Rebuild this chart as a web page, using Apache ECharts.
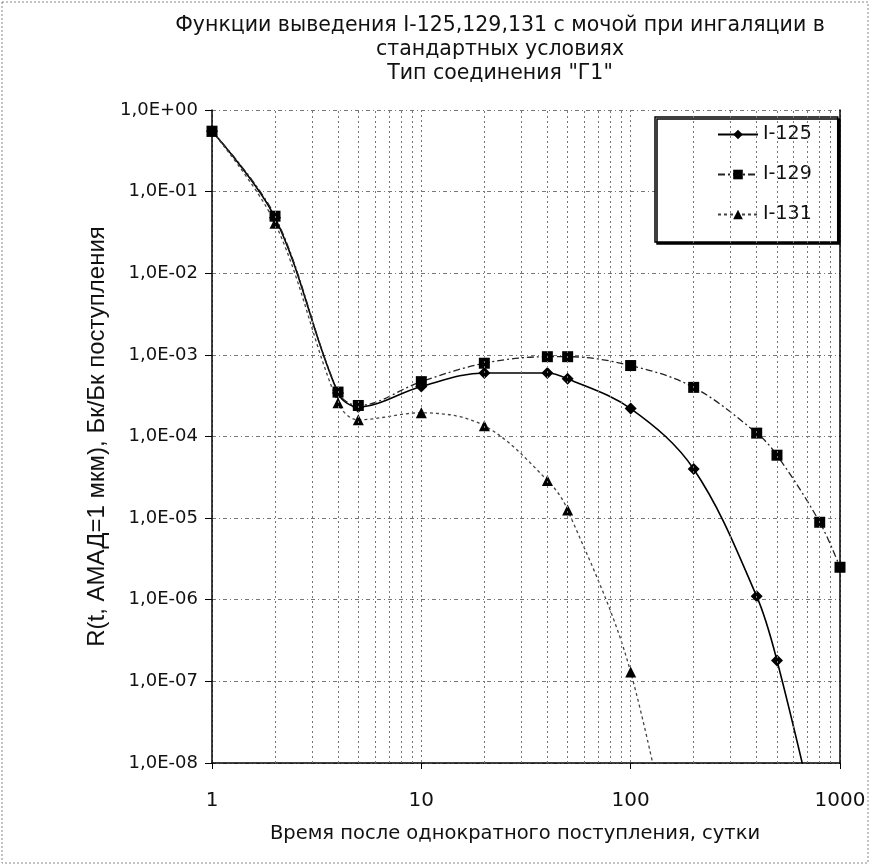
<!DOCTYPE html>
<html>
<head>
<meta charset="utf-8">
<script src="https://cdn.jsdelivr.net/npm/echarts@6/dist/echarts.min.js"></script>
<style>html,body{margin:0;padding:0;background:#fff}#c{width:871px;height:865px}</style>
</head>
<body>
<div id="c"></div>
<script>
const days = [1, 2, 4, 5, 10, 20, 40, 50, 100, 200, 400, 500, 800, 1000];
const i125 = [0.55, 0.048, 3.4e-4, 2.3e-4, 4.1e-4, 6.0e-4, 6.0e-4, 5.1e-4, 2.2e-4, 4.0e-5, 1.1e-6, 1.8e-7, 1.2e-9, null];
const i129 = [0.55, 0.050, 3.5e-4, 2.4e-4, 4.7e-4, 7.9e-4, 9.5e-4, 9.5e-4, 7.4e-4, 4.0e-4, 1.1e-4, 5.9e-5, 8.9e-6, 2.5e-6];
const i131 = [0.55, 0.041, 2.6e-4, 1.6e-4, 1.95e-4, 1.35e-4, 2.9e-5, 1.26e-5, 1.3e-7, 3e-11, null, null, null, null];
const seriesNames = ['I-125', 'I-129', 'I-131'];
const xTickLabels = ['1', '10', '100', '1000'];
const yTickLabels = ['1,0E-08', '1,0E-07', '1,0E-06', '1,0E-05', '1,0E-04', '1,0E-03', '1,0E-02', '1,0E-01', '1,0E+00'];
const minorX = [2,3,4,5,6,7,8,9,20,30,40,50,60,70,80,90,200,300,400,500,600,700,800,900];
const titleText = 'Функции выведения I-125,129,131 с мочой при ингаляции в\nстандартных условиях\nТип соединения "Г1"';
const xName = 'Время после однократного поступления, сутки';
const yName = 'R(t, АМАД=1 мкм), Бк/Бк поступления';

const pair = arr => days.map((d, i) => [d, arr[i]]).filter(p => p[1] != null);
const font = 'DejaVu Sans';
const chart = echarts.init(document.getElementById('c'), null, {renderer: 'canvas'});
chart.setOption({
  backgroundColor: '#fff',
  animation: false,
  title: {
    text: titleText, left: 495, top: 9, textAlign: 'center',
    textStyle: {fontFamily: font, fontSize: 20.5, fontWeight: 'normal', color: '#111', lineHeight: 24}
  },
  graphic: [{type: 'rect', shape: {x: 2, y: 2, width: 866, height: 861}, style: {fill: 'none', stroke: '#888', lineWidth: 1, lineDash: [2, 2]}, silent: true}],
  legend: {
    data: seriesNames, orient: 'vertical', left: 655, top: 117,
    itemWidth: 40, itemHeight: 12, itemGap: 21,
    padding: [8, 26, 18, 62],
    backgroundColor: '#fff', borderColor: '#000', borderWidth: 1.5,
    shadowColor: '#000', shadowOffsetX: 2, shadowOffsetY: 2, shadowBlur: 0,
    textStyle: {fontFamily: font, fontSize: 19, color: '#111'}
  },
  grid: {left: 212, right: 31, top: 110, bottom: 102},
  xAxis: {
    type: 'log', logBase: 10, min: 1, max: 1000, interval: 1,
    name: xName, nameLocation: 'middle', nameGap: 61,
    nameTextStyle: {fontFamily: font, fontSize: 19.5, color: '#111', padding: [0, 22, 0, 0]},
    axisLine: {lineStyle: {color: '#000', width: 1.5}},
    axisTick: {show: true, length: 6, lineStyle: {color: '#000'}},
    axisLabel: {fontFamily: font, fontSize: 20, color: '#111', margin: 28,
      formatter: v => xTickLabels[Math.round(Math.log10(v))]},
    splitLine: {show: true, lineStyle: {color: '#777', type: [2, 3], width: 1}}
  },
  yAxis: [{
    type: 'log', logBase: 10, min: 1e-8, max: 1, interval: 1,
    name: yName, nameLocation: 'middle', nameGap: 96, nameRotate: 90,
    nameTextStyle: {fontFamily: 'Liberation Sans Narrow, Liberation Sans', fontSize: 24, color: '#111'},
    axisLine: {show: true, lineStyle: {color: '#000', width: 1.5}},
    axisTick: {show: true, length: 7, inside: false, lineStyle: {color: '#000'}},
    axisLabel: {fontFamily: font, fontSize: 18, color: '#111', margin: 14,
      formatter: v => yTickLabels[Math.round(Math.log10(v)) + 8]},
    splitLine: {show: true, lineStyle: {color: '#777', type: [4, 3, 1, 3], width: 1}}
  }, {
    type: 'log', logBase: 10, min: 1e-8, max: 1, interval: 1, position: 'right',
    axisLine: {show: true, lineStyle: {color: '#000', width: 1.5}},
    axisTick: {show: false}, axisLabel: {show: false}, splitLine: {show: false}
  }],
  series: [
    {name: 'I-125', type: 'line', data: pair(i125), smooth: 0.35, symbol: 'diamond', symbolSize: 12,
      itemStyle: {color: '#000'}, lineStyle: {color: '#000', width: 1.6, type: 'solid'}, clip: true},
    {name: 'I-129', type: 'line', data: pair(i129), smooth: 0.35, symbol: 'rect', symbolSize: 11,
      itemStyle: {color: '#000'}, lineStyle: {color: '#222', width: 1.3, type: [7, 3, 2, 3]}, clip: true},
    {name: 'I-131', type: 'line', data: pair(i131), smooth: 0.35, symbol: 'triangle', symbolSize: 11,
      itemStyle: {color: '#000'}, lineStyle: {color: '#444', width: 1.3, type: [3, 3]}, clip: true},
    {name: 'grid', type: 'line', data: [], silent: true,
      markLine: {silent: true, symbol: 'none', label: {show: false},
        lineStyle: {color: '#777', type: [2, 3], width: 1},
        data: minorX.map(v => ({xAxis: v}))}}
  ]
});
</script>
</body>
</html>
